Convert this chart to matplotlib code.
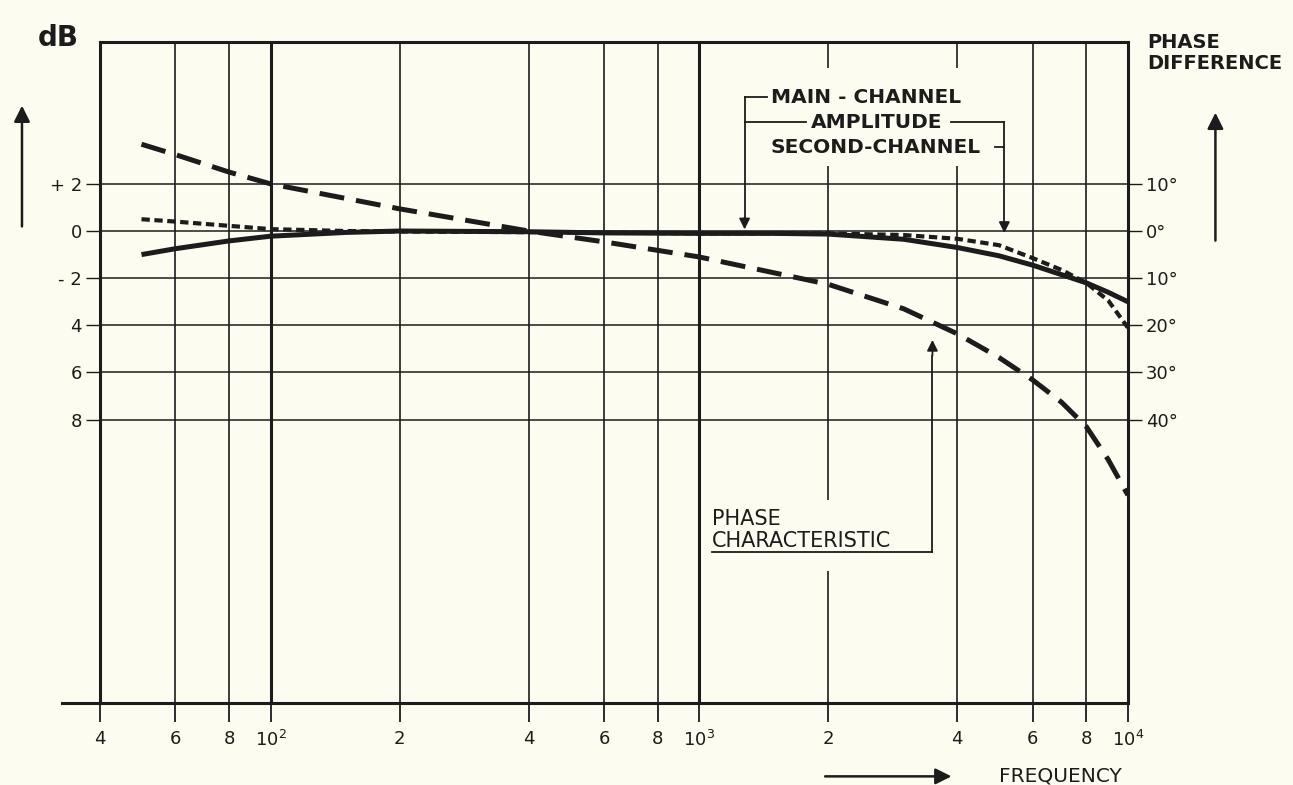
"""
Frequency response of main / second channel with phase characteristic
(redrawn from a scanned datasheet figure)
"""

import matplotlib.pyplot as plt
from matplotlib.patches import Rectangle

# ---- data ----
freq_amp = [50, 60, 80, 100, 150, 200, 400, 600, 1000, 1500, 2000, 3000,
            4000, 5000, 6000, 7000, 8000, 9000, 10000]
main_db = [-1.0, -0.75, -0.42, -0.22, -0.06, 0.0, -0.03, -0.08, -0.1, -0.1,
           -0.13, -0.35, -0.7, -1.05, -1.45, -1.85, -2.2, -2.6, -3.0]
second_db = [0.5, 0.4, 0.22, 0.08, 0.0, -0.02, -0.05, -0.07, -0.1, -0.1,
             -0.1, -0.17, -0.33, -0.6, -1.15, -1.65, -2.2, -2.95, -4.1]

freq_phase = [50, 60, 80, 100, 200, 400, 600, 1000, 2000, 3000, 4000, 5000,
              6000, 7000, 8000, 9000, 10000]
phase_deg = [18.4, 16.2, 12.5, 10.0, 4.7, 0.0, -2.3, -5.5, -11.3, -16.5,
             -21.8, -26.8, -31.6, -36.3, -41.5, -48.5, -56.0]

x_ticks = [40, 60, 80, 100, 200, 400, 600, 800, 1000, 2000, 4000, 6000, 8000, 10000]
x_labels = ['4', '6', '8', '10$^2$', '2', '4', '6', '8', '10$^3$', '2', '4', '6', '8', '10$^4$']
db_ticks = [2, 0, -2, -4, -6, -8]
db_labels = ['+ 2', '0', '- 2', '4', '6', '8']
phase_ticks = [10, 0, -10, -20, -30, -40]
phase_labels = ['10°', '0°', '10°', '20°', '30°', '40°']

PAPER = '#fdfcf0'
INK = '#1c1c1c'
plt.rcParams['font.family'] = ['DejaVu Sans']

fig = plt.figure(figsize=(12.93, 7.85), dpi=100, facecolor=PAPER)
ax = fig.add_axes([0.0773, 0.105, 0.795, 0.841])
ax.set_facecolor(PAPER)
ax.set_xscale('log')
ax.set_xlim(40, 10000)
ax.set_ylim(-20, 8)

for s in ax.spines.values():
    s.set_color(INK)
    s.set_linewidth(2.2)

# grid
for f in x_ticks[1:-1]:
    lw = 2.2 if f in (100, 1000) else 1.2
    ax.axvline(f, color=INK, lw=lw, zorder=1)
for d in db_ticks:
    ax.axhline(d, color=INK, lw=1.1, zorder=1)

ax.set_xticks(x_ticks)
ax.set_xticklabels(x_labels)
ax.minorticks_off()
ax.tick_params(axis='x', length=14, width=1.3, colors=INK, labelsize=13, pad=6)
ax.set_yticks(db_ticks)
ax.set_yticklabels(db_labels)
ax.tick_params(axis='y', length=10, width=1.0, colors=INK, labelsize=13, pad=3)

# bottom line runs a little past the left border
ax.plot([-0.037, 0], [0, 0], transform=ax.transAxes, color=INK, lw=2.2, clip_on=False)

# amplitude curves
ax.plot(freq_amp, main_db, color=INK, lw=3.6, solid_capstyle='butt', zorder=4)
ax.plot(freq_amp, second_db, color=INK, lw=3.0, linestyle=(0, (2.0, 1.1)),
        dash_capstyle='butt', zorder=4)

# phase curve on the right axis
ax2 = ax.twinx()
ax2.set_ylim(-100, 40)
ax2.set_yticks(phase_ticks)
ax2.set_yticklabels(phase_labels)
ax2.tick_params(axis='y', length=10, width=1.0, colors=INK, labelsize=13, pad=3)
for s in ax2.spines.values():
    s.set_visible(False)
ax2.plot(freq_phase, phase_deg, color=INK, lw=3.6, linestyle=(0, (5.0, 2.4)),
         dash_capstyle='butt', zorder=4)

# blank paper behind the lettering (grid lines stop there)
ax.add_patch(Rectangle((1500, 2.75), 3300, 4.15, facecolor=PAPER, edgecolor='none', zorder=2))
ax.add_patch(Rectangle((1150, -14.4), 2250, 3.0, facecolor=PAPER, edgecolor='none', zorder=2))

lab = dict(color=INK, fontsize=14.5, fontweight='bold', va='center', zorder=5)
ax.text(1470, 5.68, 'MAIN - CHANNEL', ha='left', **lab)
ax.text(1820, 4.62, 'AMPLITUDE', ha='left', **lab)
ax.text(1470, 3.56, 'SECOND-CHANNEL', ha='left', **lab)
ax.text(1072, -12.2, 'PHASE', ha='left', color=INK, fontsize=15, va='center', zorder=5)
ax.text(1072, -13.15, 'CHARACTERISTIC', ha='left', color=INK, fontsize=15, va='center', zorder=5)

# leader lines
ln = dict(color=INK, lw=1.3, zorder=5)
ax.plot([1440, 1276], [5.68, 5.68], **ln)
ax.plot([1276, 1276], [5.68, 0.6], **ln)
ax.annotate('', xy=(1276, -0.05), xytext=(1276, 0.7),
            arrowprops=dict(arrowstyle='-|>', color=INK, lw=1.3, mutation_scale=16), zorder=5)
ax.plot([1276, 1770], [4.62, 4.62], **ln)
ax.plot([3870, 5150], [4.62, 4.62], **ln)
ax.plot([4900, 5150], [3.56, 3.56], **ln)
ax.plot([5150, 5150], [4.62, 0.4], **ln)
ax.annotate('', xy=(5150, -0.2), xytext=(5150, 0.5),
            arrowprops=dict(arrowstyle='-|>', color=INK, lw=1.3, mutation_scale=16), zorder=5)
ax.plot([1072, 3500], [-13.6, -13.6], **ln)
ax.plot([3500, 3500], [-13.6, -5.3], **ln)
ax.annotate('', xy=(3500, -4.5), xytext=(3500, -5.4),
            arrowprops=dict(arrowstyle='-|>', color=INK, lw=1.3, mutation_scale=16), zorder=5)

# axis captions and arrows
fig.text(0.029, 0.952, 'dB', fontsize=20, fontweight='bold', color=INK, va='center')
fig.text(0.887, 0.946, 'PHASE', fontsize=14, fontweight='bold', color=INK, va='center')
fig.text(0.887, 0.919, 'DIFFERENCE', fontsize=14, fontweight='bold', color=INK, va='center')
fig.text(0.773, 0.011, 'FREQUENCY', fontsize=14.5, color=INK, va='center')

arw = dict(arrowstyle='-|>', color=INK, lw=1.8, mutation_scale=24)
ax.annotate('', xy=(0.017, 0.869), xytext=(0.017, 0.708), xycoords='figure fraction',
            textcoords='figure fraction', arrowprops=arw)
ax.annotate('', xy=(0.94, 0.86), xytext=(0.94, 0.69), xycoords='figure fraction',
            textcoords='figure fraction', arrowprops=arw)
ax.annotate('', xy=(0.738, 0.011), xytext=(0.636, 0.011), xycoords='figure fraction',
            textcoords='figure fraction', arrowprops=arw)

fig.savefig('out.png', dpi=100, facecolor=PAPER)
